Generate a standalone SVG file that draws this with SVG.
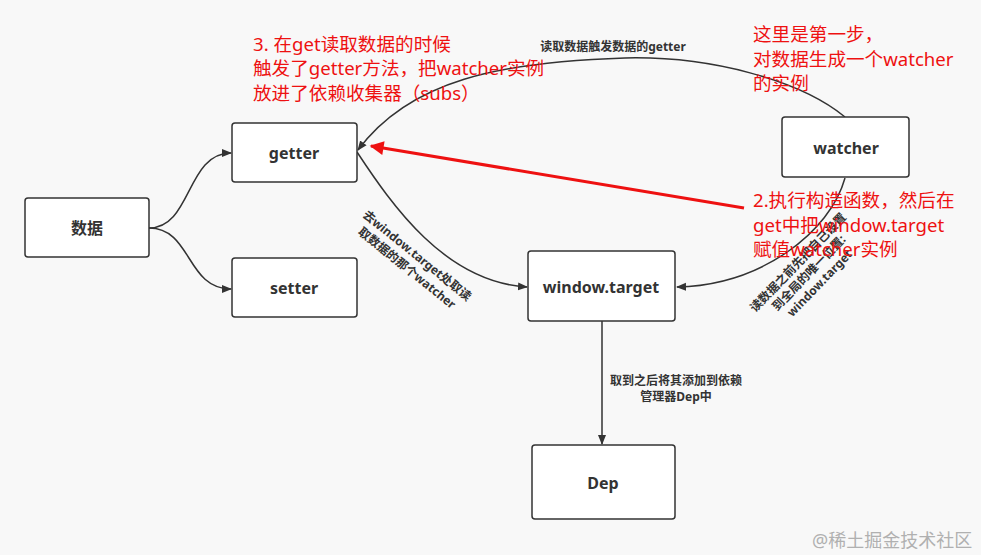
<svg xmlns="http://www.w3.org/2000/svg" width="981" height="555" viewBox="0 0 981 555">
<style>
.box{fill:#ffffff;stroke:#333333;stroke-width:1.5}
.lbl{font-family:"Noto Sans","Noto Sans CJK SC",sans-serif;font-weight:bold;font-size:16px;fill:#333333;text-anchor:middle}
.edge{fill:none;stroke:#333333;stroke-width:1.5}
.elbl{font-family:"Noto Sans","Noto Sans CJK SC",sans-serif;font-weight:bold;font-size:12px;fill:#333333;text-anchor:middle}
.red{font-family:"Noto Sans","Noto Sans CJK SC",sans-serif;font-size:18.6px;fill:#ee1111}
.wm{font-family:"Noto Sans","Noto Sans CJK SC",sans-serif;font-size:18px;fill:#b0b0b0}
</style>
<defs>
<marker id="ah" viewBox="0 0 10 10" refX="9" refY="5" markerWidth="10" markerHeight="10" markerUnits="userSpaceOnUse" orient="auto">
<path d="M0,1 L10,5 L0,9 Z" fill="#333333"/>
</marker>
<marker id="ahr" viewBox="0 0 10 10" refX="9" refY="5" markerWidth="16" markerHeight="14" markerUnits="userSpaceOnUse" orient="auto">
<path d="M0,0 L10,5 L0,10 Z" fill="#ee1111"/>
</marker>
</defs>
<rect width="981" height="555" fill="#f8f8f8"/>
<g id="connectors">
<path class="edge" d="M149,228 C192,228 186,153 231,153" marker-end="url(#ah)"/>
<path class="edge" d="M149,228 C192,228 186,289 231,289" marker-end="url(#ah)"/>
<path class="edge" d="M845,117 C800,80 710,56 625,58 C500,62 410,80 358,150" marker-end="url(#ah)"/>
<path class="edge" d="M357,152 C392,205 445,282 527,287" marker-end="url(#ah)"/>
<path class="edge" d="M845,178 C830,232 762,285 677,287" marker-end="url(#ah)"/>
<path class="edge" d="M602,321 L602,444" marker-end="url(#ah)"/>
<line x1="744" y1="208" x2="371" y2="146" stroke="#ee1111" stroke-width="3" marker-end="url(#ahr)"/>
<text class="elbl" x="613" y="51">读取数据触发数据的getter</text>
<text class="elbl" x="676" y="385">取到之后将其添加到依赖</text>
<text class="elbl" x="676" y="401">管理器Dep中</text>
<g transform="translate(412,262) rotate(39)">
<text class="elbl" x="0" y="-4">去window.target处取读</text>
<text class="elbl" x="0" y="12">取数据的那个watcher</text>
</g>
<g transform="translate(809,273) rotate(-46)">
<text class="elbl" x="0" y="-11">读数据之前先把自己设置</text>
<text class="elbl" x="0" y="4">到全局的唯一位置:</text>
<text class="elbl" x="0" y="19">window.target</text>
</g>
</g>
<g id="node-data"><rect class="box" x="25" y="198" width="124" height="59" rx="3"/><text class="lbl" x="87" y="234">数据</text></g>
<g id="node-getter"><rect class="box" x="232" y="123" width="125" height="59" rx="3"/><text class="lbl" x="294" y="159">getter</text></g>
<g id="node-setter"><rect class="box" x="232" y="258" width="125" height="59" rx="3"/><text class="lbl" x="294" y="294">setter</text></g>
<g id="node-watcher"><rect class="box" x="782" y="117" width="127" height="60" rx="3"/><text class="lbl" x="846" y="154">watcher</text></g>
<g id="node-window-target"><rect class="box" x="528" y="251" width="147" height="70" rx="3"/><text class="lbl" x="601" y="293">window.target</text></g>
<g id="node-dep"><rect class="box" x="532" y="445" width="143" height="74" rx="3"/><text class="lbl" x="603" y="489">Dep</text></g>
<g id="notes">
<text class="red" x="253" y="51">3. 在get读取数据的时候</text>
<text class="red" x="253" y="75">触发了getter方法，把watcher实例</text>
<text class="red" x="253" y="100">放进了依赖收集器（subs）</text>
<text class="red" x="753" y="41">这里是第一步，</text>
<text class="red" x="753" y="66">对数据生成一个watcher</text>
<text class="red" x="753" y="90">的实例</text>
<text class="red" x="753" y="207">2.执行构造函数，然后在</text>
<text class="red" x="753" y="232">get中把window.target</text>
<text class="red" x="753" y="256">赋值watcher实例</text>
</g>
<text class="wm" x="812" y="547">@稀土掘金技术社区</text>
</svg>
